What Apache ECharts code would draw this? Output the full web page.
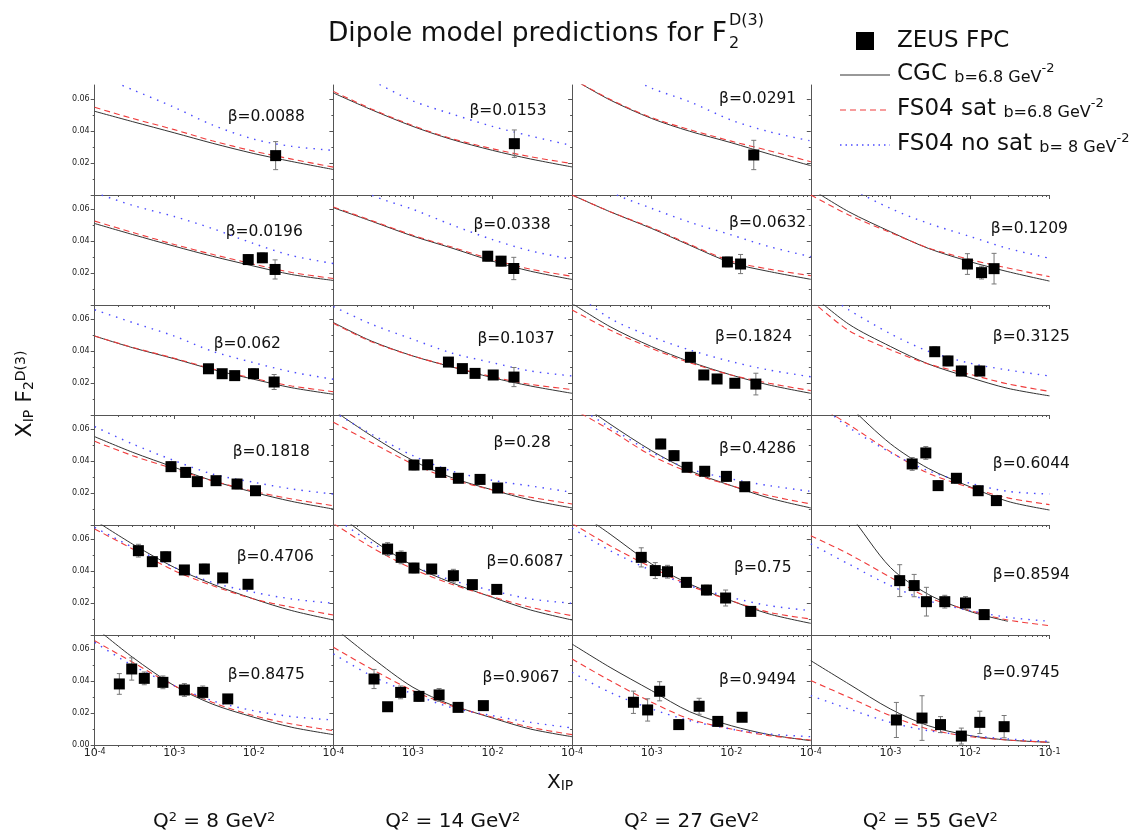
<!DOCTYPE html>
<html>
<head>
<meta charset="utf-8">
<title>Dipole model predictions</title>
<script src="https://cdn.jsdelivr.net/npm/echarts@6/dist/echarts.min.js"></script>
<style>
  html, body { margin: 0; padding: 0; background: #fff; }
  #chart { width: 1129px; height: 836px; }
</style>
</head>
<body>
<div id="chart"></div>
<script>
const xPoints = [1e-4, 3e-4, 1e-3, 3e-3, 1e-2, 3e-2, 1e-1];

// panels in reading order: 6 rows x 4 columns, panel 3 is empty (legend)
const betaLabels = [
  '0.0088', '0.0153', '0.0291', null,
  '0.0196', '0.0338', '0.0632', '0.1209',
  '0.062', '0.1037', '0.1824', '0.3125',
  '0.1818', '0.28', '0.4286', '0.6044',
  '0.4706', '0.6087', '0.75', '0.8594',
  '0.8475', '0.9067', '0.9494', '0.9745'
];

const q2Values = ['8', '14', '27', '55'];

// CGC b=6.8 GeV^-2
const cgcCurves = [
  [0.0525, 0.046, 0.039, 0.0325, 0.026, 0.021, 0.016],
  [0.064, 0.0535, 0.043, 0.035, 0.028, 0.0226, 0.0176],
  [0.073, 0.0596, 0.048, 0.040, 0.0328, 0.0257, 0.0184],
  null,
  [0.0511, 0.0442, 0.0369, 0.0306, 0.0244, 0.0191, 0.0154],
  [0.061, 0.0526, 0.0432, 0.0359, 0.0275, 0.0212, 0.016],
  [0.069, 0.0585, 0.048, 0.0375, 0.0265, 0.021, 0.0161],
  [0.073, 0.0585, 0.046, 0.0355, 0.0272, 0.0209, 0.015],
  [0.0495, 0.0422, 0.0353, 0.0286, 0.0224, 0.0171, 0.013],
  [0.058, 0.0464, 0.037, 0.0303, 0.0234, 0.0182, 0.0136],
  [0.070, 0.0554, 0.0429, 0.0335, 0.0251, 0.0188, 0.0136],
  [0.076, 0.057, 0.043, 0.032, 0.0235, 0.0167, 0.012],
  [0.0554, 0.0456, 0.0362, 0.0278, 0.0205, 0.0148, 0.010],
  [0.072, 0.056, 0.0404, 0.0299, 0.022, 0.0157, 0.0107],
  [0.08, 0.0633, 0.0466, 0.0341, 0.0247, 0.0169, 0.0107],
  [0.10, 0.075, 0.051, 0.0355, 0.024, 0.0148, 0.0094],
  [0.072, 0.057, 0.0424, 0.032, 0.0226, 0.0153, 0.0094],
  [0.078, 0.060, 0.0435, 0.033, 0.0236, 0.0157, 0.0094],
  [0.08, 0.0633, 0.0445, 0.032, 0.0215, 0.0132, 0.0073],
  [0.10, 0.076, 0.0424, 0.0255, 0.0148, 0.0086, null],
  [0.074, 0.055, 0.0372, 0.0257, 0.0174, 0.0111, 0.0065],
  [0.074, 0.055, 0.0362, 0.0253, 0.0169, 0.010, 0.0052],
  [0.0633, 0.0487, 0.0341, 0.0209, 0.0121, 0.0065, 0.0027],
  [0.0529, 0.0383, 0.0226, 0.0121, 0.0059, 0.0031, 0.0017]
];

// FS04 sat b=6.8 GeV^-2
const satCurves = [
  [0.055, 0.048, 0.041, 0.034, 0.0275, 0.0225, 0.0175],
  [0.065, 0.054, 0.0435, 0.0355, 0.029, 0.024, 0.0197],
  [0.073, 0.060, 0.0485, 0.041, 0.0338, 0.0278, 0.0209],
  null,
  [0.0526, 0.0455, 0.038, 0.0318, 0.0256, 0.0204, 0.0166],
  [0.0615, 0.053, 0.0437, 0.0365, 0.0285, 0.0225, 0.018],
  [0.069, 0.0585, 0.0485, 0.038, 0.0275, 0.0225, 0.0184],
  [0.069, 0.0565, 0.0455, 0.0358, 0.0285, 0.0232, 0.0178],
  [0.0495, 0.0424, 0.0356, 0.029, 0.023, 0.0182, 0.0146],
  [0.0575, 0.046, 0.037, 0.0305, 0.024, 0.0192, 0.016],
  [0.0659, 0.0533, 0.0418, 0.0328, 0.0251, 0.0199, 0.0153],
  [0.072, 0.053, 0.041, 0.032, 0.0255, 0.0195, 0.0148],
  [0.0525, 0.0435, 0.0351, 0.0278, 0.0211, 0.0163, 0.0121],
  [0.0644, 0.0518, 0.0383, 0.0289, 0.022, 0.0174, 0.0132],
  [0.073, 0.0596, 0.0435, 0.033, 0.0247, 0.0184, 0.0132],
  [0.078, 0.063, 0.046, 0.0325, 0.0235, 0.017, 0.0128],
  [0.0665, 0.054, 0.0404, 0.031, 0.0226, 0.0174, 0.0125],
  [0.070, 0.055, 0.0414, 0.032, 0.024, 0.0174, 0.0121],
  [0.07, 0.056, 0.0424, 0.031, 0.0215, 0.0142, 0.010],
  [0.0623, 0.0508, 0.0362, 0.0236, 0.0153, 0.0094, 0.0059],
  [0.0654, 0.0519, 0.0372, 0.0268, 0.0184, 0.0132, 0.009],
  [0.0613, 0.0477, 0.0341, 0.0247, 0.0174, 0.0111, 0.0065],
  [0.0539, 0.0404, 0.0268, 0.0163, 0.010, 0.0059, 0.0031],
  [0.0404, 0.0299, 0.0184, 0.010, 0.0052, 0.0031, 0.0017]
];

// FS04 no sat b=8 GeV^-2
const nosatCurves = [
  [0.076, 0.066, 0.055, 0.044, 0.035, 0.0305, 0.028],
  [0.085, 0.072, 0.059, 0.051, 0.043, 0.037, 0.031],
  [0.093, 0.08, 0.067, 0.0585, 0.047, 0.0397, 0.0339],
  null,
  [0.0705, 0.0625, 0.0555, 0.048, 0.0385, 0.031, 0.026],
  [0.083, 0.069, 0.060, 0.0505, 0.041, 0.034, 0.0286],
  [0.086, 0.071, 0.0606, 0.052, 0.044, 0.0366, 0.0303],
  [0.09, 0.074, 0.0606, 0.0512, 0.043, 0.0355, 0.0293],
  [0.066, 0.058, 0.0495, 0.040, 0.0328, 0.027, 0.0224],
  [0.068, 0.057, 0.0475, 0.039, 0.0328, 0.0276, 0.0245],
  [0.078, 0.0606, 0.0491, 0.0408, 0.0335, 0.0282, 0.024],
  [0.082, 0.066, 0.051, 0.040, 0.0325, 0.0282, 0.0245],
  [0.0617, 0.0508, 0.0404, 0.032, 0.0268, 0.0226, 0.0194],
  [0.071, 0.057, 0.0435, 0.034, 0.028, 0.0245, 0.0205],
  [0.076, 0.0613, 0.0456, 0.0351, 0.0289, 0.0247, 0.0211],
  [0.08, 0.0613, 0.0455, 0.034, 0.0262, 0.0211, 0.0194],
  [0.0675, 0.055, 0.0424, 0.033, 0.0268, 0.0226, 0.0199],
  [0.074, 0.058, 0.0435, 0.0345, 0.0278, 0.0226, 0.0199],
  [0.067, 0.0529, 0.0404, 0.031, 0.0236, 0.0184, 0.0153],
  [0.0571, 0.0445, 0.031, 0.0215, 0.0153, 0.0111, 0.0086],
  [0.0644, 0.0498, 0.0372, 0.0278, 0.0215, 0.0178, 0.0157],
  [0.0571, 0.0435, 0.032, 0.0236, 0.0184, 0.0142, 0.0107],
  [0.0456, 0.033, 0.0226, 0.0153, 0.010, 0.0069, 0.0052],
  [0.031, 0.0226, 0.0142, 0.009, 0.0059, 0.0038, 0.0023]
];

// ZEUS FPC points
const zeusX = [
  [0.0188], [0.0188], [0.0192], [],
  [0.0085, 0.0128, 0.0185], [0.0087, 0.0128, 0.0185], [0.00895, 0.0131], [0.0093, 0.014, 0.0201],
  [0.00269, 0.0040, 0.00575, 0.0099, 0.018], [0.00279, 0.00418, 0.00603, 0.0102, 0.0186],
  [0.00307, 0.00452, 0.00664, 0.0111, 0.0204], [0.00361, 0.0053, 0.0078, 0.0133],
  [9.1e-4, 1.39e-3, 1.95e-3, 3.35e-3, 6.15e-3, 0.0105], [1.03e-3, 1.53e-3, 2.23e-3, 3.72e-3, 6.97e-3, 0.0116],
  [1.3e-3, 1.91e-3, 2.79e-3, 4.64e-3, 8.7e-3, 0.0148], [1.88e-3, 2.79e-3, 3.98e-3, 6.76e-3, 0.0127, 0.0215],
  [3.54e-4, 5.3e-4, 7.8e-4, 1.34e-3, 2.39e-3, 4.06e-3, 8.45e-3], [4.8e-4, 7.1e-4, 1.03e-3, 1.72e-3, 3.22e-3, 5.58e-3, 0.0113],
  [7.4e-4, 1.11e-3, 1.58e-3, 2.73e-3, 4.88e-3, 8.5e-3, 0.0176], [1.31e-3, 1.99e-3, 2.84e-3, 4.83e-3, 8.8e-3, 0.0151],
  [2.04e-4, 2.92e-4, 4.2e-4, 7.2e-4, 1.34e-3, 2.28e-3, 4.7e-3], [3.24e-4, 4.8e-4, 7.0e-4, 1.19e-3, 2.13e-3, 3.69e-3, 7.67e-3],
  [5.9e-4, 8.9e-4, 1.26e-3, 2.19e-3, 3.95e-3, 6.78e-3, 0.0137], [1.19e-3, 2.5e-3, 4.27e-3, 7.8e-3, 0.0133, 0.0269]
];
const zeusY = [
  [0.0247], [0.0322], [0.0251], [],
  [0.0285, 0.0296, 0.0223], [0.0306, 0.0275, 0.0229], [0.027, 0.0257], [0.0257, 0.0203, 0.0228],
  [0.029, 0.0259, 0.0247, 0.0259, 0.0207], [0.0332, 0.0291, 0.0261, 0.0251, 0.0238],
  [0.0362, 0.0251, 0.0226, 0.0199, 0.0194], [0.0397, 0.0339, 0.0276, 0.0276],
  [0.0366, 0.033, 0.0272, 0.0278, 0.0257, 0.0215], [0.0376, 0.0378, 0.033, 0.0293, 0.0286, 0.0232],
  [0.0508, 0.0435, 0.0362, 0.0337, 0.0305, 0.024], [0.0383, 0.0452, 0.0247, 0.0293, 0.0215, 0.0153],
  [0.0529, 0.046, 0.0491, 0.0408, 0.0414, 0.0358, 0.0318], [0.0539, 0.0487, 0.042, 0.0414, 0.0372, 0.0316, 0.0286],
  [0.0487, 0.0404, 0.0397, 0.033, 0.0282, 0.0232, 0.0148], [0.0341, 0.031, 0.0209, 0.0209, 0.0201, 0.0128],
  [0.0383, 0.0477, 0.0418, 0.0393, 0.0345, 0.033, 0.0289], [0.0414, 0.024, 0.033, 0.0305, 0.0314, 0.0236, 0.0247],
  [0.0268, 0.022, 0.0337, 0.0128, 0.0243, 0.0148, 0.0174], [0.0157, 0.0169, 0.0128, 0.0056, 0.0142, 0.0115]
];
const zeusErr = [
  [0.0088], [0.0086], [0.0092], [],
  [0.003, 0.003, 0.006], [0.003, 0.003, 0.007], [0.003, 0.006], [0.0065, 0.004, 0.0096],
  [0.002, 0.002, 0.002, 0.003, 0.0047], [0.002, 0.002, 0.002, 0.002, 0.006],
  [0.002, 0.002, 0.002, 0.002, 0.0068], [0.003, 0.003, 0.003, 0.003],
  [0.003, 0.003, 0.002, 0.002, 0.003, 0.002], [0.003, 0.002, 0.002, 0.002, 0.003, 0.002],
  [0.003, 0.003, 0.002, 0.003, 0.003, 0.002], [0.004, 0.004, 0.003, 0.003, 0.003, 0.002],
  [0.004, 0.003, 0.003, 0.002, 0.003, 0.003, 0.002], [0.004, 0.004, 0.003, 0.002, 0.004, 0.002, 0.002],
  [0.006, 0.005, 0.004, 0.003, 0.003, 0.005, 0.002], [0.01, 0.007, 0.009, 0.004, 0.004, 0.003],
  [0.0065, 0.007, 0.004, 0.004, 0.004, 0.004, 0.002], [0.006, 0.002, 0.004, 0.003, 0.004, 0.002, 0.002],
  [0.007, 0.007, 0.006, 0.003, 0.005, 0.003, 0.002], [0.011, 0.014, 0.005, 0.005, 0.007, 0.007]
];

// where the beta text sits inside each panel (px from panel left / top)
const betaPos = [
  [133, 32], [136, 26], [147, 14], null,
  [131, 37], [140, 30], [157, 28], [180, 34],
  [119, 39], [144, 34], [143, 32], [182, 32],
  [138, 37], [160, 28], [147, 34], [182, 49],
  [142, 32], [153, 37], [162, 43], [182, 50],
  [133, 40], [149, 43], [147, 45], [172, 38]
];

const FONT = 'DejaVu Sans';
const AXIS = '#555';
const INK = '#111';
const CGC_COLOR = '#333', SAT_COLOR = '#f03c3c', NOSAT_COLOR = '#4b4bff';
const SAT_DASH = [6, 4], NOSAT_DASH = [1.5, 6];
const LEFT0 = 94.7, COL_W = 238.7, TOP0 = 85, ROW_H = 110, Y_MAX = 0.069;

const majorX = [1e-4, 1e-3, 1e-2, 1e-1];
const minorX = [];
[-4, -3, -2].forEach(function (d) {
  for (let k = 2; k <= 9; k++) minorX.push(+(k * Math.pow(10, d)).toPrecision(2));
});
const majorY = [0, 0.02, 0.04, 0.06];
const minorY = [0.01, 0.03, 0.05];

const grids = [], xAxes = [], yAxes = [], series = [], graphics = [];

function curveData(ys) {
  return xPoints.map(function (x, i) { return [x, ys[i]]; }).filter(function (d) { return d[1] != null; });
}

for (let p = 0; p < 24; p++) {
  const r = Math.floor(p / 4), c = p % 4;
  const left = LEFT0 + c * COL_W, top = TOP0 + r * ROW_H;
  const bottomRow = r === 5;
  grids.push({ left: left, top: top, width: COL_W, height: ROW_H, outerBoundsMode: 'none' });

  // major x axis with labels, then minor-tick overlay
  xAxes.push({
    type: 'log', logBase: 10, gridIndex: p, position: 'bottom', min: 1e-4, max: 1e-1,
    axisLine: { show: true, onZero: false, lineStyle: { color: AXIS, width: 1 } },
    axisTick: { show: true, customValues: majorX, length: 4, lineStyle: { color: AXIS } },
    axisLabel: {
      show: bottomRow, margin: 3,
      customValues: c === 3 ? majorX : majorX.slice(0, 3),
      formatter: function (v) { return '{e|10}{s|' + Math.round(Math.log10(v)) + '}'; },
      rich: {
        e: { fontSize: 11, lineHeight: 11, verticalAlign: 'bottom', fontFamily: FONT, color: '#222' },
        s: { fontSize: 8, lineHeight: 8, padding: [0, 0, 6, 0], verticalAlign: 'top', fontFamily: FONT, color: '#222' }
      }
    },
    splitLine: { show: false }
  });
  xAxes.push({
    type: 'log', logBase: 10, gridIndex: p, position: 'bottom', min: 1e-4, max: 1e-1,
    axisLine: { show: false },
    axisTick: { show: true, customValues: minorX, length: 2, lineStyle: { color: AXIS } },
    axisLabel: { show: false },
    splitLine: { show: false }
  });

  const yLabels = bottomRow ? majorY : majorY.slice(1);
  yAxes.push({
    type: 'value', gridIndex: p, position: 'left', min: 0, max: Y_MAX,
    axisLine: { show: true, onZero: false, lineStyle: { color: AXIS, width: 1 } },
    axisTick: { show: true, customValues: majorY, length: 4, lineStyle: { color: AXIS } },
    axisLabel: {
      show: c === 0, margin: 5, customValues: yLabels,
      formatter: function (v) { return v.toFixed(2); },
      fontSize: 8, fontFamily: FONT, color: '#222'
    },
    splitLine: { show: false }
  });
  yAxes.push({
    type: 'value', gridIndex: p, position: 'left', min: 0, max: Y_MAX,
    axisLine: { show: false },
    axisTick: { show: true, customValues: minorY, length: 2, lineStyle: { color: AXIS } },
    axisLabel: { show: false },
    splitLine: { show: false }
  });

  if (!cgcCurves[p]) continue;
  const xi = 2 * p, yi = 2 * p;

  series.push({
    name: 'CGC', type: 'line', xAxisIndex: xi, yAxisIndex: yi, data: curveData(cgcCurves[p]),
    smooth: 0.3, symbol: 'none', showSymbol: false, silent: true, z: 2,
    lineStyle: { color: CGC_COLOR, width: 1 }, itemStyle: { color: CGC_COLOR }
  });
  series.push({
    name: 'FS04 sat', type: 'line', xAxisIndex: xi, yAxisIndex: yi, data: curveData(satCurves[p]),
    smooth: 0.3, symbol: 'none', showSymbol: false, silent: true, z: 2,
    lineStyle: { color: SAT_COLOR, width: 1.1, type: SAT_DASH }, itemStyle: { color: SAT_COLOR }
  });
  series.push({
    name: 'FS04 no sat', type: 'line', xAxisIndex: xi, yAxisIndex: yi, data: curveData(nosatCurves[p]),
    smooth: 0.3, symbol: 'none', showSymbol: false, silent: true, z: 2,
    lineStyle: { color: NOSAT_COLOR, width: 1.4, type: NOSAT_DASH }, itemStyle: { color: NOSAT_COLOR }
  });

  const pts = zeusX[p].map(function (x, i) { return [x, zeusY[p][i], zeusErr[p][i]]; });
  series.push({
    name: 'ZEUS FPC', type: 'scatter', xAxisIndex: xi, yAxisIndex: yi,
    data: pts.map(function (d) { return [d[0], d[1]]; }),
    symbol: 'rect', symbolSize: 11, itemStyle: { color: '#000', opacity: 1 }, silent: true, z: 4
  });
  series.push({
    name: 'ZEUS FPC errors', type: 'custom', xAxisIndex: xi, yAxisIndex: yi, data: pts,
    dimensions: ['x', 'y', 'err'], encode: { x: 0, y: 1 }, silent: true, z: 3,
    renderItem: function (params, api) {
      const x = api.value(0), y = api.value(1), e = api.value(2);
      const hi = api.coord([x, y + e]), lo = api.coord([x, y - e]);
      const st = { stroke: '#777', lineWidth: 1 };
      return {
        type: 'group', children: [
          { type: 'line', shape: { x1: hi[0], y1: hi[1], x2: lo[0], y2: lo[1] }, style: st },
          { type: 'line', shape: { x1: hi[0] - 2.5, y1: hi[1], x2: hi[0] + 2.5, y2: hi[1] }, style: st },
          { type: 'line', shape: { x1: lo[0] - 2.5, y1: lo[1], x2: lo[0] + 2.5, y2: lo[1] }, style: st }
        ]
      };
    }
  });

  graphics.push({
    type: 'text', x: left + betaPos[p][0], y: top + betaPos[p][1], silent: true,
    style: { text: '\u03b2=' + betaLabels[p], fontSize: 15.5, fontFamily: FONT, fill: INK, align: 'left', verticalAlign: 'middle' }
  });
}

// title with stacked sub/superscript
graphics.push({
  type: 'text', x: 727, y: 34, silent: true,
  style: { text: 'Dipole model predictions for F', fontSize: 26.5, fontFamily: FONT, fill: INK, align: 'right', verticalAlign: 'middle' }
});
graphics.push({
  type: 'text', x: 729, y: 21, silent: true,
  style: { text: 'D(3)', fontSize: 16, fontFamily: FONT, fill: INK, align: 'left', verticalAlign: 'middle' }
});
graphics.push({
  type: 'text', x: 729, y: 44, silent: true,
  style: { text: '2', fontSize: 16, fontFamily: FONT, fill: INK, align: 'left', verticalAlign: 'middle' }
});

// Q^2 labels under each column
q2Values.forEach(function (q, c) {
  graphics.push({
    type: 'text', x: LEFT0 + (c + 0.5) * COL_W, y: 821.5, silent: true,
    style: {
      text: '{m|Q}{p|2}{m| = ' + q + ' GeV}{p|2}', align: 'center', verticalAlign: 'middle',
      rich: {
        m: { fontSize: 20, lineHeight: 20, verticalAlign: 'bottom', fontFamily: FONT, fill: INK },
        p: { fontSize: 13, lineHeight: 13, padding: [0, 0, 10, 0], verticalAlign: 'top', fontFamily: FONT, fill: INK }
      }
    }
  });
});

// x axis title
graphics.push({
  type: 'text', x: 547, y: 783, silent: true,
  style: {
    text: '{m|X}{s|IP}', align: 'left', verticalAlign: 'middle',
    rich: {
      m: { fontSize: 20, lineHeight: 20, verticalAlign: 'top', fontFamily: FONT, fill: INK },
      s: { fontSize: 14, lineHeight: 14, padding: [16, 0, 0, 0], verticalAlign: 'bottom', fontFamily: FONT, fill: INK }
    }
  }
});

// y axis title, rotated
graphics.push({
  type: 'text', x: 25.5, y: 394, rotation: Math.PI / 2, silent: true,
  style: {
    text: '{m|X}{s|IP}{m| F}{s|2}{p|D(3)}', align: 'center', verticalAlign: 'middle',
    rich: {
      m: { fontSize: 22, lineHeight: 22, verticalAlign: 'middle', fontFamily: FONT, fill: INK },
      s: { fontSize: 14, lineHeight: 14, padding: [28, 0, 0, 0], verticalAlign: 'bottom', fontFamily: FONT, fill: INK },
      p: { fontSize: 14, lineHeight: 14, verticalAlign: 'top', fontFamily: FONT, fill: INK }
    }
  }
});

// legend drawn by hand (square marker + three line samples)
const legendRich = {
  a: { fontSize: 23, lineHeight: 23, verticalAlign: 'bottom', fontFamily: FONT, fill: INK },
  b: { fontSize: 16, lineHeight: 16, verticalAlign: 'bottom', fontFamily: FONT, fill: INK },
  c: { fontSize: 13, lineHeight: 13, padding: [0, 0, 11.5, 0], verticalAlign: 'top', fontFamily: FONT, fill: INK }
};
graphics.push({ type: 'rect', shape: { x: 856, y: 32, width: 18, height: 18 }, style: { fill: '#000' }, silent: true });
graphics.push({
  type: 'text', x: 897, y: 41, silent: true,
  style: { text: 'ZEUS FPC', fontSize: 23, fontFamily: FONT, fill: INK, align: 'left', verticalAlign: 'middle' }
});
[
  { y: 75, text: '{a|CGC }{b|b=6.8 GeV}{c|-2}', stroke: CGC_COLOR, dash: null, width: 1 },
  { y: 110, text: '{a|FS04 sat }{b|b=6.8 GeV}{c|-2}', stroke: SAT_COLOR, dash: SAT_DASH, width: 1.1 },
  { y: 145, text: '{a|FS04 no sat }{b|b= 8 GeV}{c|-2}', stroke: NOSAT_COLOR, dash: [1.5, 4], width: 1.4 }
].forEach(function (row) {
  graphics.push({
    type: 'line', silent: true,
    shape: { x1: 840, y1: row.y, x2: 890, y2: row.y },
    style: { stroke: row.stroke, lineWidth: row.width, lineDash: row.dash }
  });
  graphics.push({
    type: 'text', x: 897, y: row.y - 1, silent: true,
    style: { text: row.text, align: 'left', verticalAlign: 'middle', rich: legendRich }
  });
});

const option = {
  animation: false,
  backgroundColor: '#fff',
  textStyle: { fontFamily: FONT },
  grid: grids,
  xAxis: xAxes,
  yAxis: yAxes,
  series: series,
  graphic: graphics
};

const chart = echarts.init(document.getElementById('chart'), null, { renderer: 'canvas' });
chart.setOption(option);
</script>
</body>
</html>
